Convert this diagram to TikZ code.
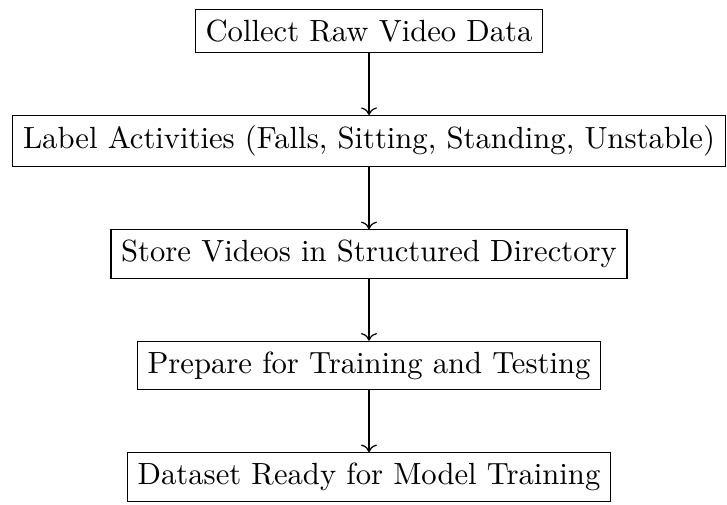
\documentclass[tikz,border=0pt]{standalone}
\usepackage{amsmath,amssymb}
\usetikzlibrary{arrows.meta, positioning}

\begin{document}
\begin{tikzpicture}[
  node distance=0.71cm,
  stepbox/.style={rectangle, draw, font=\normalsize},
  flow/.style={->}
]
% Pipeline steps, top to bottom
\node[stepbox] (collect) {Collect Raw Video Data};
\node[stepbox, below=of collect] (label)
  {Label Activities (Falls, Sitting, Standing, Unstable)};
\node[stepbox, below=of label] (store) {Store Videos in Structured Directory};
\node[stepbox, below=of store] (prepare) {Prepare for Training and Testing};
\node[stepbox, below=of prepare] (ready) {Dataset Ready for Model Training};

% Arrows between steps
\draw[flow] (collect) -- (label);
\draw[flow] (label) -- (store);
\draw[flow] (store) -- (prepare);
\draw[flow] (prepare) -- (ready);

% Margins round the chart
\useasboundingbox ([xshift=-4pt, yshift=3pt]label.west |- collect.north)
  rectangle ([xshift=0.4pt, yshift=-0.8pt]label.east |- ready.south);
\end{tikzpicture}
\end{document}
